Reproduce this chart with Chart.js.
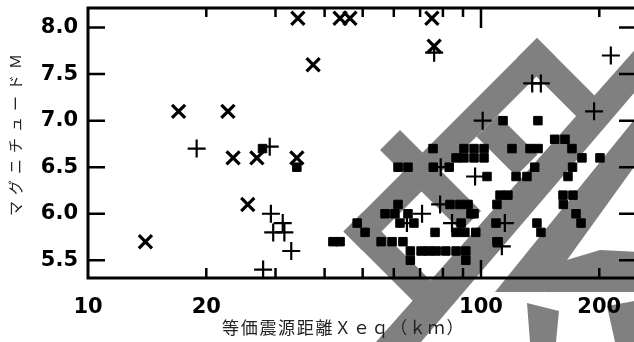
<!DOCTYPE html>
<html>
<head>
<meta charset="utf-8">
<script src="https://cdn.jsdelivr.net/npm/chart.js@4.4.1/dist/chart.umd.min.js"></script>
<style>
  html, body { margin: 0; padding: 0; background: #fff; overflow: hidden; }
  #wrap { width: 634px; height: 342px; overflow: hidden; }
  canvas { display: block; }
</style>
</head>
<body>
<div id="wrap"><canvas id="c" width="640" height="342"></canvas></div>
<script>
// Equivalent hypocentral distance Xeq (km) versus magnitude M

// events plotted with an x-shaped mark: [Xeq, M]
const crossRotEvents = [
  [14.0, 5.7], [17.0, 7.1], [22.7, 7.1], [23.4, 6.6], [26.9, 6.6], [34.0, 6.6],
  [25.5, 6.1], [37.4, 7.6], [34.2, 8.1], [43.8, 8.1], [46.4, 8.1], [75.0, 8.1],
  [76.0, 7.8]
];

// events plotted with a plus mark: [Xeq, M]
const crossEvents = [
  [18.9, 6.7], [29.0, 6.72], [29.2, 6.0], [31.3, 5.9], [29.6, 5.8], [31.6, 5.8],
  [32.9, 5.6], [27.9, 5.4], [76.0, 7.73], [101, 7.0], [135, 7.4], [142, 7.4],
  [194, 7.1], [214, 7.7], [84.4, 5.9], [70.8, 6.0], [96.6, 6.4], [115, 5.9],
  [113, 5.65], [78.7, 6.1], [64.8, 5.9], [79.0, 6.5]
];

// events plotted with a filled square: [Xeq, M]
const squareEvents = [
  [113.8, 7.0], [139.6, 7.0],
  [154, 6.8], [163.6, 6.8],
  [27.8, 6.7], [75.5, 6.7], [90.5, 6.7], [96, 6.7], [101.8, 6.7], [119.9, 6.7],
  [133.3, 6.7], [139.7, 6.7], [170.4, 6.7],
  [86.4, 6.6], [90.5, 6.6], [96, 6.6], [101.8, 6.6], [180.7, 6.6], [200.8, 6.6],
  [34, 6.5], [61.5, 6.5], [65.2, 6.5], [75.6, 6.5], [83, 6.5], [137, 6.5], [171, 6.5],
  [103.6, 6.4], [122.8, 6.4], [130.9, 6.4], [166.5, 6.4],
  [111.8, 6.2], [117.1, 6.2], [161.7, 6.2], [171.4, 6.2],
  [61.5, 6.1], [83.4, 6.1], [88.4, 6.1], [92.7, 6.1], [109.8, 6.1], [162, 6.1],
  [57, 6.0], [60.4, 6.0], [65.2, 6.0], [94.3, 6.0], [96, 6.0], [174.5, 6.0],
  [48.4, 5.9], [62.2, 5.9], [67.5, 5.9], [89, 5.9], [109.2, 5.9], [138.8, 5.9], [179.7, 5.9],
  [50.7, 5.8], [76.4, 5.8], [86.4, 5.8], [91, 5.8], [97, 5.8], [142.1, 5.8],
  [42, 5.7], [43.8, 5.7], [55.7, 5.7], [59.4, 5.7], [63.3, 5.7], [109.8, 5.7],
  [66.1, 5.6], [70.4, 5.6], [73.4, 5.6], [76.9, 5.6], [81.4, 5.6], [86.4, 5.6], [91.5, 5.6],
  [66.1, 5.5], [91.5, 5.5]
];

// axis ticks
const xTickLabels = [10, 20, 100, 200];
const xMinorTicks = [20, 30, 40, 50, 60, 70, 80, 90, 100, 200];
const yTickValues = [5.5, 6.0, 6.5, 7.0, 7.5, 8.0];

const xTitle = '等価震源距離Ｘｅｑ（ｋｍ）';
const yTitle = 'マグニチュードＭ';

const toPoints = arr => arr.map(([x, y]) => ({ x, y }));

// grey diagonal stamp printed behind the plot (canvas pixels)
function band(u1, u2, v1, v2) {
  const p = (u, v) => [(u + v) / 2, (u - v) / 2];
  return [p(u1, v1), p(u1, v2), p(u2, v2), p(u2, v1)];
}
const stampShapes = [
  band(575, 613, 112, 499),
  band(575, 700, 460, 499),
  [[376, 342], [421, 342], [640, 86], [640, 44]],
  band(575, 732, 112, 150),
  band(613, 692, 340, 383),
  band(530, 692, 230, 270),
  [[634, 120], [634, 167], [544, 292], [495, 292]],
  [[560, 262], [600, 250], [640, 252], [640, 292], [544, 292]],
  [[527, 303], [559, 311], [556, 342], [530, 342]],
  [[607, 306], [640, 300], [640, 342], [615, 342]]
];

const stampPlugin = {
  id: 'stamp',
  beforeDraw(chart) {
    const ctx = chart.ctx;
    ctx.save();
    ctx.fillStyle = '#ffffff';
    ctx.fillRect(0, 0, chart.width, chart.height);
    ctx.fillStyle = '#808080';
    stampShapes.forEach(poly => {
      ctx.beginPath();
      poly.forEach(([x, y], i) => (i ? ctx.lineTo(x, y) : ctx.moveTo(x, y)));
      ctx.closePath();
      ctx.fill();
    });
    ctx.restore();
  }
};

// frame with inward tick marks and the two axis titles
const framePlugin = {
  id: 'frame',
  afterDraw(chart) {
    const { ctx, scales: { x, y } } = chart;
    const L = x.left, R = x.right, T = y.top, B = y.bottom;
    ctx.save();
    ctx.strokeStyle = '#000';
    ctx.lineWidth = 3;
    ctx.strokeRect(L, T, R - L, B - T);

    ctx.lineWidth = 2.5;
    ctx.beginPath();
    yTickValues.forEach(v => {
      const py = y.getPixelForValue(v);
      ctx.moveTo(L, py); ctx.lineTo(L + 17, py);
      ctx.moveTo(R, py); ctx.lineTo(R - 17, py);
    });
    xMinorTicks.forEach(v => {
      const px = x.getPixelForValue(v);
      ctx.moveTo(px, B); ctx.lineTo(px, B - (v === 100 ? 18 : 10));
      ctx.moveTo(px, T); ctx.lineTo(px, T + (v === 100 ? 20 : 9));
    });
    ctx.stroke();

    ctx.fillStyle = '#222';
    ctx.textBaseline = 'middle';
    ctx.font = '17px "Noto Sans CJK JP"';
    if ('letterSpacing' in ctx) ctx.letterSpacing = '1.7px';
    ctx.textAlign = 'left';
    ctx.fillText(xTitle, 222, 328);

    ctx.font = '15px "Noto Sans CJK JP"';
    if ('letterSpacing' in ctx) ctx.letterSpacing = '6px';
    ctx.translate(15, 216);
    ctx.rotate(-Math.PI / 2);
    ctx.fillText(yTitle, 0, 0);
    ctx.restore();
  }
};

const tickFont = { family: '"DejaVu Sans", sans-serif', size: 21, weight: 'bold' };

new Chart(document.getElementById('c'), {
  type: 'scatter',
  data: {
    datasets: [
      {
        label: 'x',
        data: toPoints(crossRotEvents),
        pointStyle: 'crossRot',
        pointRadius: 9.3,
        borderWidth: 3.2,
        borderColor: '#000',
        backgroundColor: '#000'
      },
      {
        label: '+',
        data: toPoints(crossEvents),
        pointStyle: 'cross',
        pointRadius: 9,
        borderWidth: 2.2,
        borderColor: '#000',
        backgroundColor: '#000'
      },
      {
        label: 'sq',
        data: toPoints(squareEvents),
        pointStyle: 'rect',
        pointRadius: 6,
        borderWidth: 1,
        borderColor: '#000',
        backgroundColor: '#000'
      }
    ]
  },
  options: {
    responsive: false,
    animation: false,
    events: [],
    layout: { autoPadding: false, padding: { top: 8, right: 4, left: 0, bottom: 0 } },
    plugins: { legend: { display: false }, tooltip: { enabled: false } },
    scales: {
      x: {
        type: 'logarithmic',
        min: 10,
        max: 248,
        grid: { display: false, drawTicks: false },
        border: { display: false },
        afterBuildTicks: s => { s.ticks = xTickLabels.map(v => ({ value: v })); },
        afterFit: s => { s.height = 64; s.paddingLeft = 0; s.paddingRight = 0; },
        ticks: {
          color: '#000',
          font: tickFont,
          padding: 17,
          autoSkip: false,
          maxRotation: 0,
          callback: v => String(v)
        }
      },
      y: {
        type: 'linear',
        min: 5.31,
        max: 8.21,
        grid: { display: false, drawTicks: false },
        border: { display: false },
        afterBuildTicks: s => { s.ticks = yTickValues.map(v => ({ value: v })); },
        afterFit: s => { s.width = 88; s.paddingTop = 0; s.paddingBottom = 0; },
        ticks: {
          color: '#000',
          font: tickFont,
          padding: 10,
          callback: v => v.toFixed(1)
        }
      }
    }
  },
  plugins: [stampPlugin, framePlugin]
});
</script>
</body>
</html>
